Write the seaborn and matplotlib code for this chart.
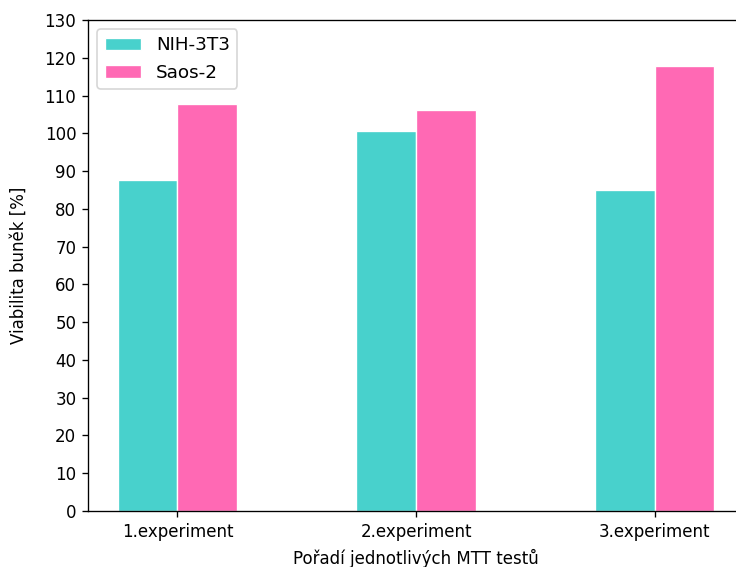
import matplotlib
matplotlib.use("Agg")
import matplotlib.pyplot as plt
import seaborn as sns
import pandas as pd

experiments = ["1.experiment", "2.experiment", "3.experiment"]
nih_3t3 = [87.5, 100.7, 85.0]
saos_2 = [107.8, 106.2, 117.9]
cell_lines = ["NIH-3T3", "Saos-2"]
colors = ["#48D1CC", "#FF69B4"]

df = pd.DataFrame({
    "experiment": experiments * 2,
    "viabilita": nih_3t3 + saos_2,
    "bunky": [cell_lines[0]] * 3 + [cell_lines[1]] * 3,
})

fig = plt.figure(figsize=(736 / 120, 567 / 120), dpi=120)
ax = fig.add_axes([0.1196, 0.0988, 0.8913, 0.866])

sns.barplot(data=df, x="experiment", y="viabilita", hue="bunky",
            palette=colors, width=0.5, errorbar=None, saturation=1,
            edgecolor="white", linewidth=0.8, ax=ax)

ax.set_xlim(-0.375, 2.375)
ax.set_ylim(0, 130)
ax.set_yticks(range(0, 131, 10))
ax.set_xlabel("Pořadí jednotlivých MTT testů", labelpad=5)
ax.set_ylabel("Viabilita buněk [%]", labelpad=10)

handles, labels = ax.get_legend_handles_labels()
ax.legend(handles, labels, loc="upper left", fontsize=11)

fig.savefig("out.png", dpi=120)
